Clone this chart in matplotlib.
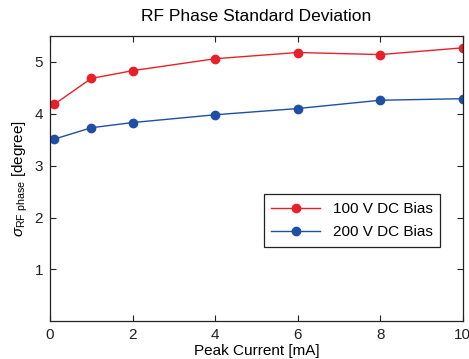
import matplotlib
matplotlib.use("Agg")
import matplotlib.pyplot as plt

plt.rcParams['font.family'] = ['Liberation Sans', 'DejaVu Sans']
plt.rcParams['mathtext.fontset'] = 'custom'
plt.rcParams['mathtext.rm'] = 'Liberation Sans'
plt.rcParams['mathtext.it'] = 'Liberation Sans:italic'

current = [0.1, 1, 2, 4, 6, 8, 10]
bias100 = [4.18, 4.68, 4.83, 5.06, 5.18, 5.14, 5.27]
bias200 = [3.51, 3.73, 3.83, 3.98, 4.10, 4.26, 4.29]
labels = ['100 V DC Bias', '200 V DC Bias']
xticks = [0, 2, 4, 6, 8, 10]
yticks = [1, 2, 3, 4, 5]

fig = plt.figure(figsize=(4.69, 3.59), dpi=100)
ax = fig.add_axes([0.1066, 0.105, 0.88, 0.795])

ax.plot(current, bias100, '-o', color='#e8202a', markersize=6, linewidth=1.0, label=labels[0])
ax.plot(current, bias200, '-o', color='#1f4fa5', markersize=6, linewidth=1.0, label=labels[1])

ax.set_xlim(0, 10)
ax.set_ylim(0, 5.5)
ax.set_xticks(xticks)
ax.set_yticks(yticks)
ax.tick_params(direction='in', top=True, right=True, labelsize=11, length=4, width=0.8, colors='#222222', pad=5)
for s in ax.spines.values():
    s.set_linewidth(0.9)
    s.set_color('#222222')

ax.set_title('RF Phase Standard Deviation', fontsize=12.5, pad=11)
ax.set_xlabel('Peak Current [mA]', fontsize=11, labelpad=1)
ax.set_ylabel(r'$\sigma_{\mathrm{RF\ phase}}$ [degree]', fontsize=11, labelpad=3)

leg = ax.legend(loc='center right', bbox_to_anchor=(0.945, 0.353), borderaxespad=0, fontsize=11,
                fancybox=False, edgecolor='#222222', framealpha=1,
                handlelength=3.2, borderpad=0.5, labelspacing=0.6)
leg.get_frame().set_linewidth(0.9)

fig.savefig('out.png', dpi=100)
